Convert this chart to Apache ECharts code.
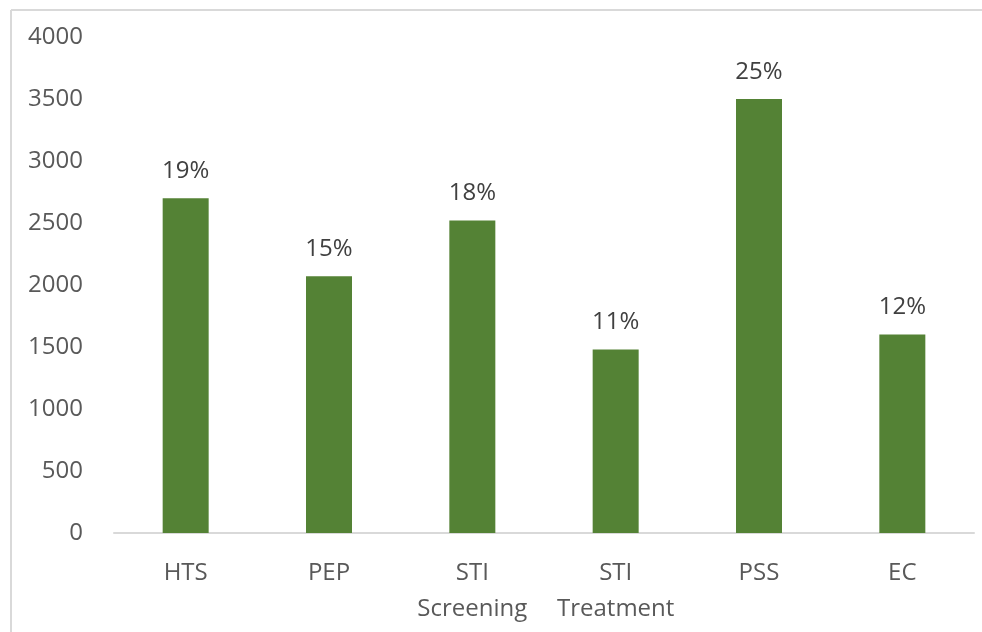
<!DOCTYPE html>
<html>
<head>
<meta charset="utf-8">
<script src="https://cdn.jsdelivr.net/npm/echarts@6/dist/echarts.min.js"></script>
<style>
html,body{margin:0;padding:0;background:#fff;}
#chart{width:982px;height:632px;}
</style>
</head>
<body>
<div id="chart"></div>
<script>
const categories = ['HTS', 'PEP', 'STI\nScreening', 'STI\nTreatment', 'PSS', 'EC'];
const values = [2700, 2070, 2520, 1480, 3500, 1600];
const percentLabels = ['19%', '15%', '18%', '11%', '25%', '12%'];
const yTicks = { min: 0, max: 4000, interval: 500 };

const chart = echarts.init(document.getElementById('chart'), null, { renderer: 'canvas' });
const font = '"Open Sans", "Liberation Sans", sans-serif';
chart.setOption({
  animation: false,
  backgroundColor: '#fff',
  graphic: [
    { type: 'line', shape: { x1: 11, y1: 10, x2: 982, y2: 10 }, style: { stroke: '#d9d9d9', lineWidth: 2 } },
    { type: 'line', shape: { x1: 11, y1: 10, x2: 11, y2: 632 }, style: { stroke: '#d9d9d9', lineWidth: 2 } }
  ],
  grid: { left: 114, right: 8, top: 37, bottom: 99, containLabel: false },
  xAxis: {
    type: 'category',
    data: categories,
    axisLine: { show: true, lineStyle: { color: '#d9d9d9', width: 2 } },
    axisTick: { show: false },
    axisLabel: {
      color: '#595959', fontSize: 24, fontFamily: font, margin: 22,
      lineHeight: 36, interval: 0
    }
  },
  yAxis: {
    type: 'value',
    min: yTicks.min, max: yTicks.max, interval: yTicks.interval,
    axisLine: { show: false },
    axisTick: { show: false },
    splitLine: { show: false },
    axisLabel: { color: '#595959', fontSize: 24, fontFamily: font, margin: 31, formatter: v => String(v) }
  },
  series: [{
    type: 'bar',
    data: values,
    barWidth: 46,
    itemStyle: { color: '#548235' },
    label: {
      show: true, position: 'top', distance: 15,
      color: '#404040', fontSize: 24, fontFamily: font,
      formatter: p => percentLabels[p.dataIndex]
    }
  }]
});
</script>
</body>
</html>
